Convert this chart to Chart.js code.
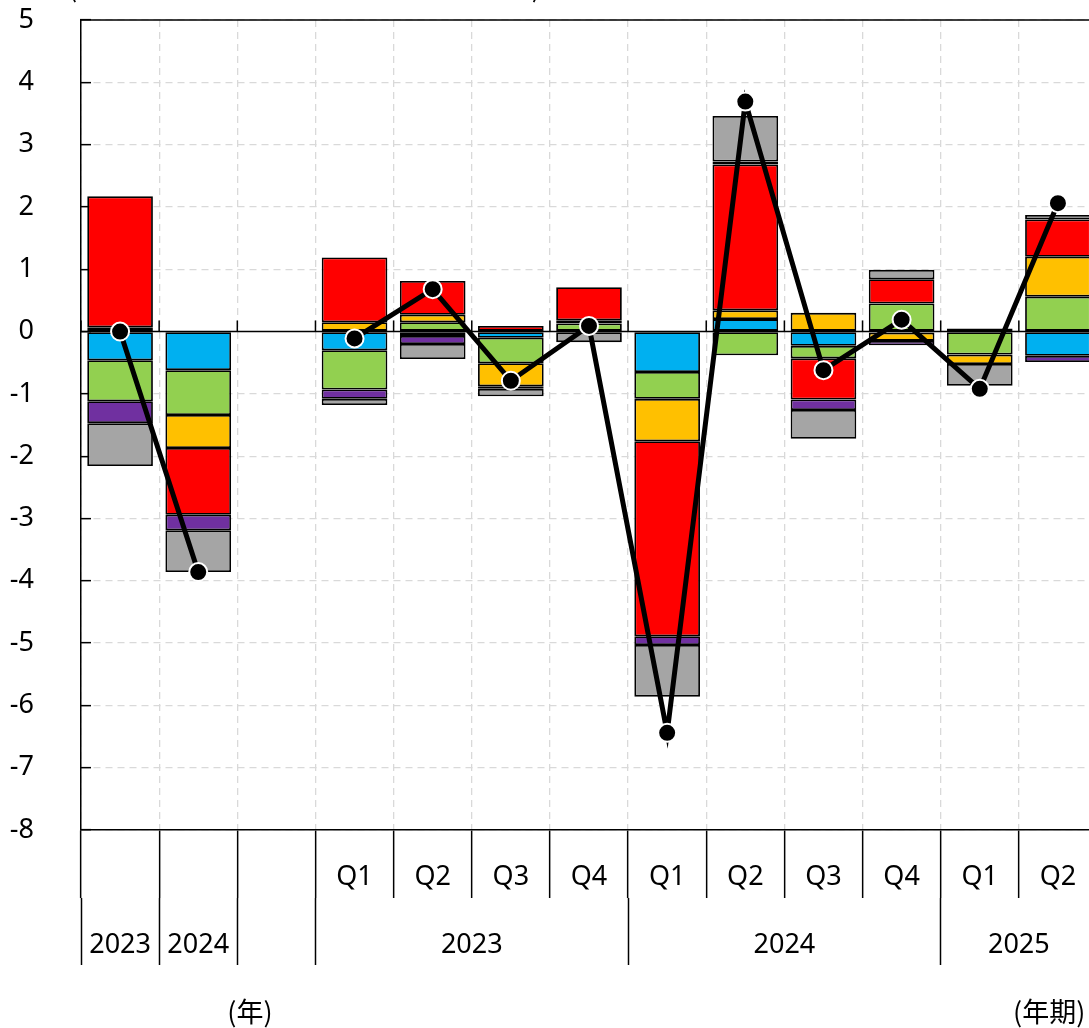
<!DOCTYPE html>
<html lang="ja">
<head>
<meta charset="UTF-8">
<title>寄与度分解</title>
<script src="https://cdn.jsdelivr.net/npm/chart.js"></script>
<style>
  html, body { margin: 0; padding: 0; background: #fff; overflow: hidden; }
  #wrap { position: relative; width: 1120px; height: 1028px; }
</style>
</head>
<body>
<div id="wrap"><canvas id="myChart" width="1120" height="1028"></canvas></div>
<script>
// 下段（四半期）ラベル、年度ラベル
var quarterLabels = ['', '', '', 'Q1', 'Q2', 'Q3', 'Q4', 'Q1', 'Q2', 'Q3', 'Q4', 'Q1', 'Q2'];
var yearTicks  = [-0.5, 0, 0.5, 1, 1.5, 2.5, 4.5, 6.5, 8.5, 10.5, 11.5, 12.5];
var yearLabels = ['', '2023', '', '2024', '', '', '2023', '', '2024', '', '2025', ''];
var yTicks = [-8, -7, -6, -5, -4, -3, -2, -1, 0, 1, 2, 3, 4, 5];

// 寄与度（積み上げ棒）
var cyanVals   = [-0.46, -0.62, null, -0.30, -0.07, -0.10, null,  -0.65,  0.20, -0.23, -0.02,  0.05, -0.39];
var greenVals  = [-0.66, -0.72, null, -0.63,  0.15, -0.41, 0.13,  -0.43, -0.38, -0.20,  0.45, -0.37,  0.56];
var yellowVals = [ 0.07, -0.53, null,  0.15,  0.12, -0.37, 0.05,  -0.68,  0.14,  0.30, -0.13, -0.15,  0.64];
var redVals    = [ 2.10, -1.07, null,  1.04,  0.54,  0.09, 0.53,  -3.13,  2.34, -0.66,  0.39,  null,  0.60];
var purpleVals = [-0.35, -0.25, null, -0.15, -0.13, -0.04, null,  -0.14,  0.05, -0.17, -0.07,  null, -0.10];
var greyVals   = [-0.69, -0.67, null, -0.10, -0.24, -0.12, -0.17, -0.83,  0.73, -0.46,  0.15, -0.35,  0.07];
// 合計（折れ線）
var totalVals  = [ 0.00, -3.86, null, -0.11,  0.68, -0.79, 0.09,  -6.44,  3.69, -0.62,  0.19, -0.92,  2.06];

var FONT = '"Noto Sans", "Noto Sans CJK JP", sans-serif';
var CJK = '"Noto Sans CJK JP", "Noto Sans", sans-serif';

function barSet(label, data, color) {
    return {
        type: 'bar', label: label, data: data,
        backgroundColor: color, borderColor: '#000', borderWidth: 1.8,
        borderSkipped: false, order: 1,
        categoryPercentage: 1.0, barPercentage: 0.84
    };
}

// 枠、ゼロ線と目盛、注記
var framePlugin = {
    id: 'frame',
    beforeDatasetsDraw: function (chart) {
        var ctx = chart.ctx, a = chart.chartArea;
        var x = chart.scales.x, y = chart.scales.y;
        var y0 = y.getPixelForValue(0);
        ctx.save();
        ctx.strokeStyle = '#000';
        ctx.lineWidth = 1.5;
        ctx.beginPath();
        ctx.moveTo(a.left, a.top); ctx.lineTo(a.right, a.top); ctx.lineTo(a.right, a.bottom);
        ctx.moveTo(a.left, y0); ctx.lineTo(a.right, y0);
        for (var i = 0; i <= quarterLabels.length; i++) {
            var bx = x.getPixelForValue(i - 0.5);
            ctx.moveTo(bx, y0); ctx.lineTo(bx, y0 - 11);
        }
        ctx.stroke();
        ctx.restore();
    },
    afterDraw: function (chart) {
        var ctx = chart.ctx;
        ctx.save();
        ctx.fillStyle = '#000';
        ctx.font = '27px ' + CJK;
        ctx.textBaseline = 'alphabetic';
        ctx.textAlign = 'left';
        ctx.fillText('(前年同期比、寄与度、%、%ポイント)', 68, -3);
        ctx.textBaseline = 'middle';
        ctx.textAlign = 'center';
        ctx.fillText('(年)', 250, 1012);
        ctx.textAlign = 'left';
        ctx.fillText('(年期)', 1013, 1012);
        ctx.restore();
    }
};

var config = {
    data: {
        labels: quarterLabels,
        datasets: [
            {
                type: 'line', label: '合計', data: totalVals, stack: 'total',
                borderColor: '#000', borderWidth: 5, tension: 0, spanGaps: false,
                pointRadius: 9, pointBackgroundColor: '#000',
                pointBorderColor: '#fff', pointBorderWidth: 2, order: 0
            },
            barSet('寄与1', cyanVals, '#00B0F0'),
            barSet('寄与2', greenVals, '#92D050'),
            barSet('寄与3', yellowVals, '#FFC000'),
            barSet('寄与4', redVals, '#FF0000'),
            barSet('寄与5', purpleVals, '#7030A0'),
            barSet('寄与6', greyVals, '#A5A5A5')
        ]
    },
    options: {
        responsive: false,
        animation: false,
        layout: { padding: { top: 20, right: 23, bottom: 63, left: 0 } },
        plugins: { legend: { display: false }, tooltip: { enabled: false }, title: { display: false } },
        scales: {
            x: {
                stacked: true,
                offset: true,
                ticks: { color: '#000', font: { size: 27, family: FONT }, padding: -37, maxRotation: 0, autoSkip: false },
                grid: { offset: true, color: '#d9d9d9', lineWidth: 1.3, tickLength: 68, tickColor: '#000', tickWidth: 1.5, tickBorderDash: [] },
                border: { color: '#000', width: 1.5, dash: [7, 5] },
                afterFit: function (s) { s.height = 68; s.paddingLeft = 0; s.paddingRight = 0; }
            },
            x2: {
                type: 'linear', position: 'bottom', weight: 1,
                min: -0.5, max: 12.5, offset: false,
                afterBuildTicks: function (s) { s.ticks = yearTicks.map(function (v) { return { value: v }; }); },
                ticks: {
                    color: '#000', font: { size: 27, family: FONT }, padding: -36, maxRotation: 0, autoSkip: false,
                    callback: function (v) { var k = yearTicks.indexOf(v); return k < 0 ? '' : yearLabels[k]; }
                },
                grid: {
                    drawOnChartArea: false, tickLength: 67, tickWidth: 1.5, tickBorderDash: [],
                    tickColor: function (c) {
                        if (!c.tick) return 'rgba(0,0,0,0)';
                        var k = yearTicks.indexOf(c.tick.value);
                        return (k >= 0 && yearLabels[k] === '') ? '#000' : 'rgba(0,0,0,0)';
                    }
                },
                border: { display: false },
                afterFit: function (s) { s.height = 67; s.paddingLeft = 0; s.paddingRight = 0; }
            },
            y: {
                stacked: true,
                min: -8, max: 5,
                afterBuildTicks: function (s) { s.ticks = yTicks.map(function (v) { return { value: v }; }); },
                ticks: { color: '#000', font: { size: 27, family: FONT }, padding: 57, callback: function (v) { return String(v); } },
                grid: {
                    color: function (c) { return (c.tick && c.tick.value === 0) ? 'rgba(0,0,0,0)' : '#d9d9d9'; },
                    lineWidth: 1.3, tickLength: -10, tickColor: '#000', tickWidth: 1.5, tickBorderDash: []
                },
                border: { color: '#000', width: 1.5, dash: [7, 5] },
                afterFit: function (s) { s.width = 81; s.paddingTop = 0; s.paddingBottom = 0; }
            }
        }
    },
    plugins: [framePlugin]
};

var myChart = new Chart(document.getElementById('myChart'), config);
</script>
</body>
</html>
